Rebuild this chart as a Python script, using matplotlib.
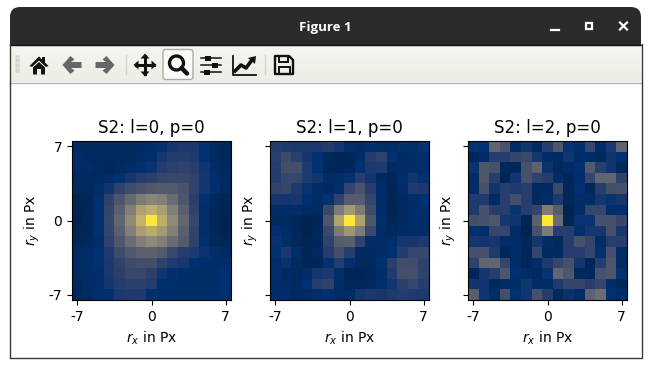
#!/usr/bin/env python

import numpy as np
import matplotlib
matplotlib.use("Agg")
import matplotlib.pyplot as plt
from matplotlib.patches import Polygon, Rectangle, Circle, FancyBboxPatch

W, H = 651, 367

titles = ["S2: l=0, p=0", "S2: l=1, p=0", "S2: l=2, p=0"]
tick_pos = [-7, 0, 7]
tick_labels = ["-7", "0", "7"]

# values, 0..100, top row first
map_l0 = [
    [5, 4, 4, 4, 4, 4, 5, 7, 8, 12, 13, 13, 9, 5, 3],
    [6, 5, 4, 4, 4, 4, 6, 7, 12, 15, 15, 14, 9, 5, 3],
    [6, 6, 5, 3, 5, 6, 8, 10, 15, 17, 18, 16, 11, 6, 4],
    [5, 5, 5, 6, 8, 12, 15, 17, 20, 21, 21, 18, 12, 7, 5],
    [4, 4, 7, 11, 18, 24, 28, 31, 32, 32, 28, 19, 12, 8, 5],
    [2, 3, 8, 18, 29, 40, 50, 55, 52, 42, 30, 17, 8, 4, 2],
    [2, 3, 8, 20, 35, 52, 70, 76, 68, 52, 35, 19, 7, 3, 2],
    [1, 3, 8, 21, 38, 58, 78, 100, 76, 58, 38, 20, 7, 3, 1],
    [2, 3, 8, 20, 35, 52, 68, 74, 66, 52, 35, 19, 7, 3, 1],
    [3, 4, 7, 18, 30, 42, 52, 58, 52, 42, 32, 18, 8, 4, 2],
    [5, 6, 8, 14, 24, 31, 36, 36, 32, 22, 16, 14, 10, 7, 5],
    [5, 6, 8, 13, 18, 23, 26, 25, 18, 14, 12, 8, 7, 7, 7],
    [5, 6, 7, 13, 17, 21, 21, 17, 11, 8, 7, 6, 6, 7, 8],
    [4, 6, 7, 12, 15, 17, 17, 15, 8, 7, 6, 6, 6, 7, 8],
    [3, 5, 7, 8, 13, 14, 14, 9, 7, 7, 6, 6, 6, 7, 8],
]
map_l1 = [
    [15, 14, 13, 13, 13, 15, 12, 7, 5, 8, 7, 6, 8, 7, 10],
    [17, 23, 17, 12, 8, 4, 3, 3, 6, 15, 18, 9, 5, 6, 7],
    [15, 25, 25, 14, 9, 3, 2, 3, 8, 13, 14, 5, 6, 7, 7],
    [15, 21, 21, 14, 11, 6, 6, 9, 16, 11, 4, 3, 7, 11, 9],
    [19, 20, 14, 10, 6, 5, 7, 20, 28, 16, 6, 2, 6, 14, 13],
    [12, 11, 12, 8, 5, 9, 18, 33, 33, 20, 6, 2, 5, 7, 9],
    [7, 6, 6, 5, 5, 22, 50, 65, 50, 24, 6, 2, 4, 7, 7],
    [5, 5, 3, 1, 3, 30, 70, 100, 70, 30, 7, 3, 4, 6, 6],
    [8, 6, 3, 1, 3, 22, 50, 64, 50, 22, 6, 4, 6, 6, 6],
    [10, 7, 3, 2, 3, 18, 33, 35, 19, 7, 6, 7, 12, 12, 13],
    [9, 13, 7, 2, 4, 15, 26, 16, 5, 5, 6, 8, 15, 21, 21],
    [7, 10, 5, 2, 3, 9, 15, 8, 4, 4, 9, 17, 25, 24, 18],
    [7, 5, 4, 6, 12, 13, 7, 2, 2, 3, 7, 14, 26, 26, 18],
    [7, 6, 5, 8, 16, 18, 6, 3, 3, 4, 7, 11, 17, 21, 16],
    [7, 7, 5, 5, 7, 8, 5, 6, 12, 13, 12, 14, 15, 14, 14],
]
map_l2 = [
    [9, 9, 38, 28, 6, 11, 4, 16, 30, 10, 8, 21, 6, 13, 38],
    [3, 6, 16, 16, 20, 22, 12, 6, 5, 11, 6, 6, 4, 11, 9],
    [10, 30, 27, 3, 3, 27, 36, 10, 4, 6, 8, 32, 16, 11, 3],
    [6, 30, 16, 2, 11, 27, 18, 16, 7, 2, 7, 20, 38, 38, 18],
    [6, 27, 11, 16, 14, 16, 5, 5, 22, 3, 8, 3, 16, 25, 27],
    [14, 14, 5, 16, 25, 16, 4, 6, 14, 3, 6, 6, 12, 10, 12],
    [14, 27, 16, 16, 10, 16, 20, 50, 33, 1, 6, 20, 20, 7, 8],
    [25, 27, 30, 12, 11, 2, 36, 100, 42, 2, 10, 10, 27, 27, 20],
    [8, 6, 20, 20, 6, 1, 27, 50, 16, 16, 8, 12, 12, 27, 12],
    [12, 11, 12, 6, 6, 3, 12, 7, 4, 16, 27, 20, 6, 16, 16],
    [27, 27, 14, 3, 7, 3, 20, 5, 5, 16, 16, 20, 9, 27, 6],
    [18, 38, 38, 20, 6, 2, 7, 14, 20, 27, 12, 3, 16, 30, 5],
    [3, 12, 16, 30, 8, 6, 4, 10, 38, 30, 4, 3, 27, 30, 9],
    [11, 11, 4, 6, 6, 11, 6, 6, 14, 20, 20, 16, 20, 7, 3],
    [34, 11, 6, 25, 9, 11, 27, 16, 4, 10, 6, 36, 42, 9, 7],
]
maps = [map_l0, map_l1, map_l2]

# axes boxes in pixels: left, right
panel_x = [(72, 231), (270, 429), (468, 627)]
panel_y = (141, 300)
ylabel_pad = [5, 0, 0]


def draw_toolbar(ax):
    """Window frame, title bar and toolbar icons, drawn in pixel coordinates"""
    ax.add_patch(FancyBboxPatch((10, 7), 631, 60, boxstyle="round,pad=0,rounding_size=10",
                                fc="#2b2b2b", ec="none"))
    ax.add_patch(Rectangle((10, 30), 631, 14.5, fc="#2b2b2b", ec="none"))
    ax.plot([10, 641], [44.5, 44.5], color="#111111", lw=1)
    grad = np.linspace(0, 1, 36)[:, None]
    ax.imshow(grad, extent=(10, 641, 82, 45), cmap=matplotlib.colors.LinearSegmentedColormap.from_list(
        "bar", ["#f7f5f0", "#efece6"]), aspect="auto", zorder=1)
    ax.plot([10, 641], [82.5, 82.5], color="#b8b5ad", lw=1, zorder=2)
    ax.plot([9.5, 9.5, 641.5, 641.5], [44, 357.5, 357.5, 44], color="#3a3a3a", lw=1, zorder=2)
    ax.set_xlim(0, W)
    ax.set_ylim(H, 0)

    ax.text(325.5, 27, "Figure 1", color="white", fontsize=9.5, fontweight="bold",
            family="Open Sans", ha="center", va="center", zorder=3)
    ax.plot([551, 559], [29.5, 29.5], color="white", lw=1.6, zorder=3)
    ax.add_patch(Rectangle((585.5, 22.5), 6, 6, fc="none", ec="white", lw=1.6, zorder=3))
    ax.plot([620, 627], [22.5, 29.5], color="white", lw=1.6, zorder=3)
    ax.plot([620, 627], [29.5, 22.5], color="white", lw=1.6, zorder=3)

    # grip
    for x in (15.5, 18):
        ax.plot([x] * 7, np.linspace(56, 71, 7), ls="none", marker="s", ms=0.7, color="#d5d2cb", zorder=3)
    # home
    ax.add_patch(Polygon([(29.5, 66), (39, 56.5), (42, 59.5), (42, 57), (45, 57), (45, 62.5), (48.5, 66),
                          (46, 67), (39, 60.5), (32, 67)], fc="#111111", ec="none", zorder=3))
    ax.add_patch(Polygon([(33, 67.5), (39, 62), (45, 67.5), (45, 74.5), (41, 74.5), (41, 69), (37, 69),
                          (37, 74.5), (33, 74.5)], fc="#111111", ec="none", zorder=3))
    # back, forward
    arrow = np.array([(-9.5, 0), (-1.5, -9), (2.5, -5.5), (-1, -3), (9.5, -3), (9.5, 3), (-1, 3), (2.5, 5.5), (-1.5, 9)])
    ax.add_patch(Polygon(arrow + (72, 65), fc="#666666", ec="none", zorder=3))
    ax.add_patch(Polygon(arrow * (-1, 1) + (105, 65), fc="#666666", ec="none", zorder=3))
    # separators
    for x in (126, 265):
        ax.plot([x, x], [55, 74], color="#d5d2cb", lw=1, zorder=3)
    # move
    ax.plot([136, 154], [65, 65], color="#111111", lw=2.2, zorder=3)
    ax.plot([145, 145], [56, 74], color="#111111", lw=2.2, zorder=3)
    for dx, dy in ((-1, 0), (1, 0), (0, -1), (0, 1)):
        tip = np.array([145 + dx * 11.5, 65 + dy * 11.5])
        base = np.array([145 + dx * 6.5, 65 + dy * 6.5])
        side = np.array([dy, dx]) * 4.5
        ax.add_patch(Polygon([tip, base + side, base - side], fc="#111111", ec="none", zorder=3))
    # zoom button
    ax.add_patch(FancyBboxPatch((163, 49.5), 30, 30, boxstyle="round,pad=0,rounding_size=2.5",
                                fc="#fbfaf8", ec="#b0aca5", lw=1, zorder=3))
    ax.add_patch(Circle((176.5, 63), 7, fc="none", ec="#111111", lw=2.4, zorder=4))
    ax.plot([181.5, 187], [68, 73.5], color="#111111", lw=3.2, solid_capstyle="round", zorder=4)
    # sliders
    for y, knob in ((58, 208), (65, 215), (72, 207)):
        ax.plot([201, 221], [y, y], color="#111111", lw=1.1, zorder=3)
        ax.add_patch(Rectangle((knob - 3, y - 2.5), 6, 5, fc="#111111", ec="none", zorder=4))
    # lines
    ax.plot([232.5, 232.5, 256], [56, 75, 75], color="#111111", lw=1.3, zorder=3)
    ax.plot([235, 241, 246, 252], [71, 65, 68, 60], color="#111111", lw=2.6, zorder=3)
    ax.add_patch(Polygon([(248, 58), (256, 56), (255, 64)], fc="#111111", ec="none", zorder=3))
    # save
    ax.add_patch(Polygon([(275, 56), (289, 56), (293, 60), (293, 74), (275, 74)], fc="none", ec="#111111",
                         lw=1.7, joinstyle="round", zorder=3))
    ax.add_patch(Rectangle((279, 56), 9, 6, fc="none", ec="#111111", lw=1.4, zorder=3))
    ax.add_patch(Rectangle((278.5, 66.5), 11, 7.5, fc="none", ec="#111111", lw=1.4, zorder=3))


fig = plt.figure(figsize=(W / 100, H / 100), dpi=100)
fig.patch.set_facecolor("white")

frame = fig.add_axes([0, 0, 1, 1], zorder=0)
frame.axis("off")
draw_toolbar(frame)

for i, (x0, x1) in enumerate(panel_x):
    ax = fig.add_axes([x0 / W, 1 - panel_y[1] / H, (x1 - x0) / W, (panel_y[1] - panel_y[0]) / H], zorder=1)
    ax.imshow(np.array(maps[i]), cmap="cividis", vmin=0, vmax=100, extent=(-7.5, 7.5, -7.5, 7.5),
              interpolation="nearest")
    ax.set_xticks(tick_pos)
    ax.set_xticklabels(tick_labels)
    ax.set_yticks(tick_pos)
    ax.set_yticklabels(tick_labels if i == 0 else [])
    ax.set_xlabel(r"$r_x$ in Px")
    ax.set_ylabel(r"$r_y$ in Px", labelpad=ylabel_pad[i])
    ax.set_title(titles[i], fontsize=12, pad=6)

fig.savefig("out.png", dpi=100)
